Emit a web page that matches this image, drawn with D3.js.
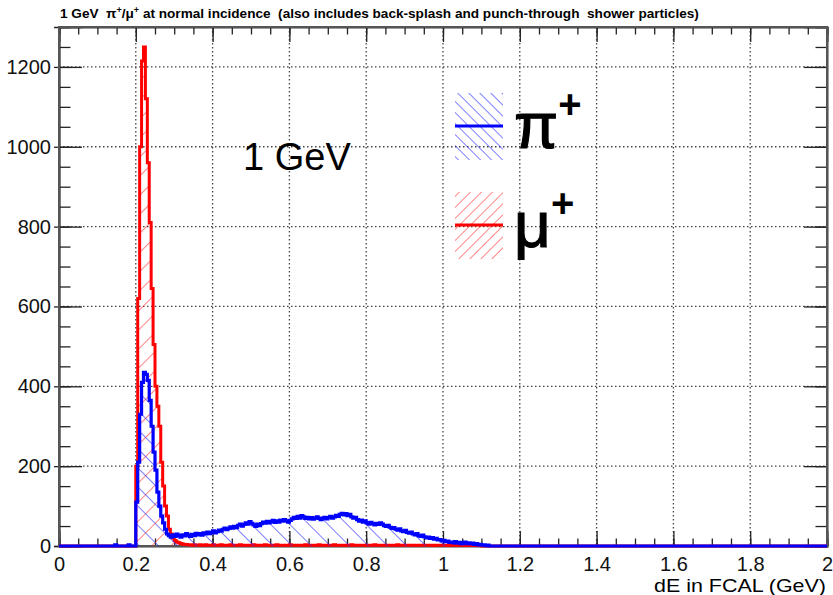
<!DOCTYPE html>
<html>
<head>
<meta charset="utf-8">
<script src="https://cdn.jsdelivr.net/npm/d3@7"></script>
<style>
  body { margin: 0; background: #fff; }
  text { font-family: "Liberation Sans", Arial, sans-serif; }
</style>
</head>
<body>
<div id="chart"></div>
<script>
// energy deposit histograms, 0.005 GeV bins (bins not listed are empty)
const binWidth = 0.005;

// pi+ , first bin starts at 0.145 GeV
const piStart = 0.145;
const piCounts = [
  3, 0, 0, 0, 0, 0, 0, 3, 0, 0, 0,
  110, 210, 330, 410, 435, 430, 415, 365, 300, 235, 190, 135, 100, 75, 58, 42, 30, 26,
  22, 28, 24, 30, 26, 22, 28, 25, 31, 27, 24, 29, 26, 32, 28, 31, 27, 33, 30, 35, 31, 34,
  38, 33, 36, 40, 37, 42, 45, 41, 44, 48, 45, 49, 46, 52, 55, 50, 54, 58, 55, 61,
  57, 53, 49, 55, 51, 56, 60, 57, 62, 58, 61, 64, 59, 63, 60, 65, 62, 66, 63, 60,
  64, 68, 72, 69, 74, 70, 76, 73, 69, 72, 68, 71, 67, 70, 73, 69, 66, 70, 72, 68,
  71, 74, 70, 73, 77, 74, 79, 82, 78, 81, 76, 79, 73, 70, 72, 66, 62, 65, 60, 63,
  58, 55, 59, 56, 53, 57, 54, 58, 55, 51, 49, 52, 47, 44, 46, 42, 40, 43, 38, 36,
  39, 34, 32, 35, 30, 28, 31, 26, 24, 27, 23, 20, 22, 19, 21, 17, 19, 15, 16, 13,
  14, 11, 12, 9, 10, 8, 11, 7, 9, 6, 8, 10, 6, 8, 5, 7, 4, 6, 3, 4, 2, 3, 1, 2
];

// mu+ , first bin starts at 0.2 GeV
const muStart = 0.2;
const muCounts = [
  200, 620, 1000, 1215, 1250, 1120, 960, 810, 645, 505, 400, 350, 300, 210,
  150, 100, 75, 42, 30, 20, 14, 10, 8, 6, 5, 4, 4, 3,
  3, 2, 3, 2, 2, 3, 2, 2, 3, 2, 2, 2, 3, 2, 2, 2, 3, 2, 2, 2,
  2, 3, 2, 2, 2, 2, 3, 2, 2, 2, 2, 2, 2, 3, 2, 2, 2, 2, 2, 3,
  2, 2, 2, 2, 2, 3, 2, 2, 2, 2, 2, 2, 3, 2, 2, 2, 2, 2, 2, 2,
  3, 2, 2, 2, 2, 2, 2, 3, 2, 2, 2, 2, 2, 2, 2, 3, 2, 2, 2, 2,
  2, 2, 2, 2, 3, 2, 2, 2, 2, 2, 2, 2, 2, 2, 2, 2, 3, 2, 2, 2,
  2, 2, 2, 2, 2, 2, 2, 2, 3, 2, 2, 2, 2, 2, 2, 2, 2, 2, 2, 2,
  2, 2, 2, 2, 2, 2, 2, 1, 2, 2, 2, 2, 2, 2, 1, 2, 2, 2, 2, 1,
  2, 2, 2, 1, 2, 2, 1, 2, 2, 1, 2, 1
];

const xTicks = [0, 0.2, 0.4, 0.6, 0.8, 1, 1.2, 1.4, 1.6, 1.8, 2];
const yTicks = [0, 200, 400, 600, 800, 1000, 1200];
const xMinorTicks = d3.range(0, 2.001, 0.05);
const yMinorTicks = d3.range(0, 1300, 50);

const svgWidth = 833;
const svgHeight = 595;
const margin = { top: 27, right: 6, bottom: 49, left: 59 };
const width = svgWidth - margin.left - margin.right;
const height = svgHeight - margin.top - margin.bottom;

const svg = d3.select("#chart")
  .append("svg")
  .attr("width", svgWidth)
  .attr("height", svgHeight);

// hatch patterns
const defs = svg.append("defs");
function hatch(id, size, angle, color) {
  defs.append("pattern")
    .attr("id", id)
    .attr("patternUnits", "userSpaceOnUse")
    .attr("width", size)
    .attr("height", size)
    .attr("patternTransform", `rotate(${angle})`)
    .append("line")
    .attr("x1", 0).attr("y1", 0)
    .attr("x2", 0).attr("y2", size)
    .attr("stroke", color)
    .attr("stroke-width", 1.2);
}
hatch("hatchPi", 13.5, -45, "#2a2aff");
hatch("hatchMu", 13.5, 45, "#ff3030");
hatch("hatchPiLeg", 7.8, -45, "#2a2aff");
hatch("hatchMuLeg", 7.8, 45, "#ff3030");

const g = svg.append("g")
  .attr("transform", `translate(${margin.left}, ${margin.top})`);

const x = d3.scaleLinear().domain([0, 2]).range([0, width]);
const y = d3.scaleLinear().domain([0, 1300]).range([height, 0]);

// dotted grid
g.append("g").selectAll("line")
  .data(yTicks.slice(1))
  .join("line")
  .attr("x1", 0).attr("x2", width)
  .attr("y1", d => y(d)).attr("y2", d => y(d))
  .attr("stroke", "#444").attr("stroke-width", 1.3)
  .attr("stroke-dasharray", "1.5,2.5");
g.append("g").selectAll("line")
  .data(xTicks.slice(1, -1))
  .join("line")
  .attr("y1", 0).attr("y2", height)
  .attr("x1", d => x(d)).attr("x2", d => x(d))
  .attr("stroke", "#444").attr("stroke-width", 1.3)
  .attr("stroke-dasharray", "1.5,2.5");

// axes
g.append("g")
  .attr("transform", `translate(0, ${height})`)
  .call(d3.axisBottom(x).tickValues(xMinorTicks).tickSize(-7.5).tickFormat(""));
g.append("g")
  .attr("class", "xaxis")
  .attr("transform", `translate(0, ${height})`)
  .call(d3.axisBottom(x).tickValues(xTicks).tickSize(-15).tickPadding(11).tickFormat(d3.format("")));
g.append("g")
  .call(d3.axisTop(x).tickValues(xMinorTicks).tickSize(-7.5).tickFormat(""));
g.append("g")
  .call(d3.axisTop(x).tickValues(xTicks).tickSize(-15).tickFormat(""));

g.append("g")
  .call(d3.axisLeft(y).tickValues(yMinorTicks).tickSize(-11.5).tickFormat(""));
g.append("g")
  .call(d3.axisLeft(y).tickValues(yTicks).tickSize(-23).tickFormat(""));
g.append("g")
  .attr("class", "yaxis")
  .call(d3.axisLeft(y).tickValues(yTicks).tickSize(5).tickPadding(3).tickFormat(d3.format("d")));
g.append("g")
  .attr("transform", `translate(${width}, 0)`)
  .call(d3.axisRight(y).tickValues(yMinorTicks).tickSize(-11.5).tickFormat(""));
g.append("g")
  .attr("transform", `translate(${width}, 0)`)
  .call(d3.axisRight(y).tickValues(yTicks).tickSize(-23).tickFormat(""));

g.selectAll(".tick line").attr("stroke", "#222").attr("stroke-width", 1.3);
g.selectAll(".domain").attr("stroke", "#222").attr("stroke-width", 1.5);
g.selectAll(".xaxis text, .yaxis text")
  .attr("font-size", 20)
  .attr("font-family", "Liberation Sans, Arial, sans-serif")
  .attr("fill", "#111");

// frame
g.append("rect")
  .attr("width", width).attr("height", height)
  .attr("fill", "none").attr("stroke", "#555").attr("stroke-width", 2);

// histograms
function steps(start, counts) {
  const pts = [{ x: 0, c: 0 }];
  counts.forEach((c, i) => pts.push({ x: start + i * binWidth, c: c }));
  pts.push({ x: start + counts.length * binWidth, c: 0 });
  pts.push({ x: 2, c: 0 });
  return pts;
}
const area = d3.area()
  .x(d => x(d.x)).y0(y(0)).y1(d => y(d.c))
  .curve(d3.curveStepAfter);
const line = d3.line()
  .x(d => x(d.x)).y(d => y(d.c))
  .curve(d3.curveStepAfter);

const muPts = steps(muStart, muCounts);
const piPts = steps(piStart, piCounts);

g.append("path").attr("d", area(muPts)).attr("fill", "url(#hatchMu)");
g.append("path").attr("d", line(muPts))
  .attr("fill", "none").attr("stroke", "#ff0000").attr("stroke-width", 3);
g.append("path").attr("d", area(piPts)).attr("fill", "url(#hatchPi)");
g.append("path").attr("d", line(piPts))
  .attr("fill", "none").attr("stroke", "#0000ff").attr("stroke-width", 3.2);

// title
const title = svg.append("text")
  .attr("x", 60).attr("y", 18)
  .attr("font-size", 13.6).attr("font-weight", "bold")
  .style("white-space", "pre");
title.append("tspan").text("1 GeV  \u03c0");
title.append("tspan").attr("font-size", 9).attr("dy", -5).text("+");
title.append("tspan").attr("dy", 5).text("/\u03bc");
title.append("tspan").attr("font-size", 9).attr("dy", -5).text("+");
title.append("tspan").attr("dy", 5)
  .text(" at normal incidence  (also includes back-splash and punch-through  shower particles)");

// x axis title
svg.append("text")
  .attr("x", 826).attr("y", 592)
  .attr("text-anchor", "end")
  .attr("font-size", 19)
  .attr("textLength", 172)
  .attr("lengthAdjust", "spacingAndGlyphs")
  .text("dE in FCAL (GeV)");

// energy label
svg.append("text")
  .attr("x", 243).attr("y", 170)
  .attr("font-family", "Noto Sans, sans-serif")
  .attr("font-size", 38)
  .text("1 GeV");

// legend
const legend = [
  { name: "\u03c0", top: 93, color: "#0000ff", fill: "url(#hatchPiLeg)" },
  { name: "\u03bc", top: 192, color: "#ff0000", fill: "url(#hatchMuLeg)" }
];
legend.forEach(l => {
  svg.append("rect")
    .attr("x", 455).attr("y", l.top).attr("width", 48).attr("height", 67)
    .attr("fill", l.fill);
  svg.append("line")
    .attr("x1", 455).attr("x2", 503)
    .attr("y1", l.top + 33).attr("y2", l.top + 33)
    .attr("stroke", l.color).attr("stroke-width", 3);
  const t = svg.append("text")
    .attr("x", 514).attr("y", l.top + 55)
    .attr("font-family", "DejaVu Serif, serif")
    .attr("font-size", 64)
    .attr("stroke", "#000").attr("stroke-width", 1.2);
  t.append("tspan").text(l.name);
  t.append("tspan").attr("font-family", "Liberation Sans, sans-serif")
    .attr("font-size", 40).attr("font-weight", "bold").attr("stroke", "none")
    .attr("dy", -30).text("+");
});
</script>
</body>
</html>
